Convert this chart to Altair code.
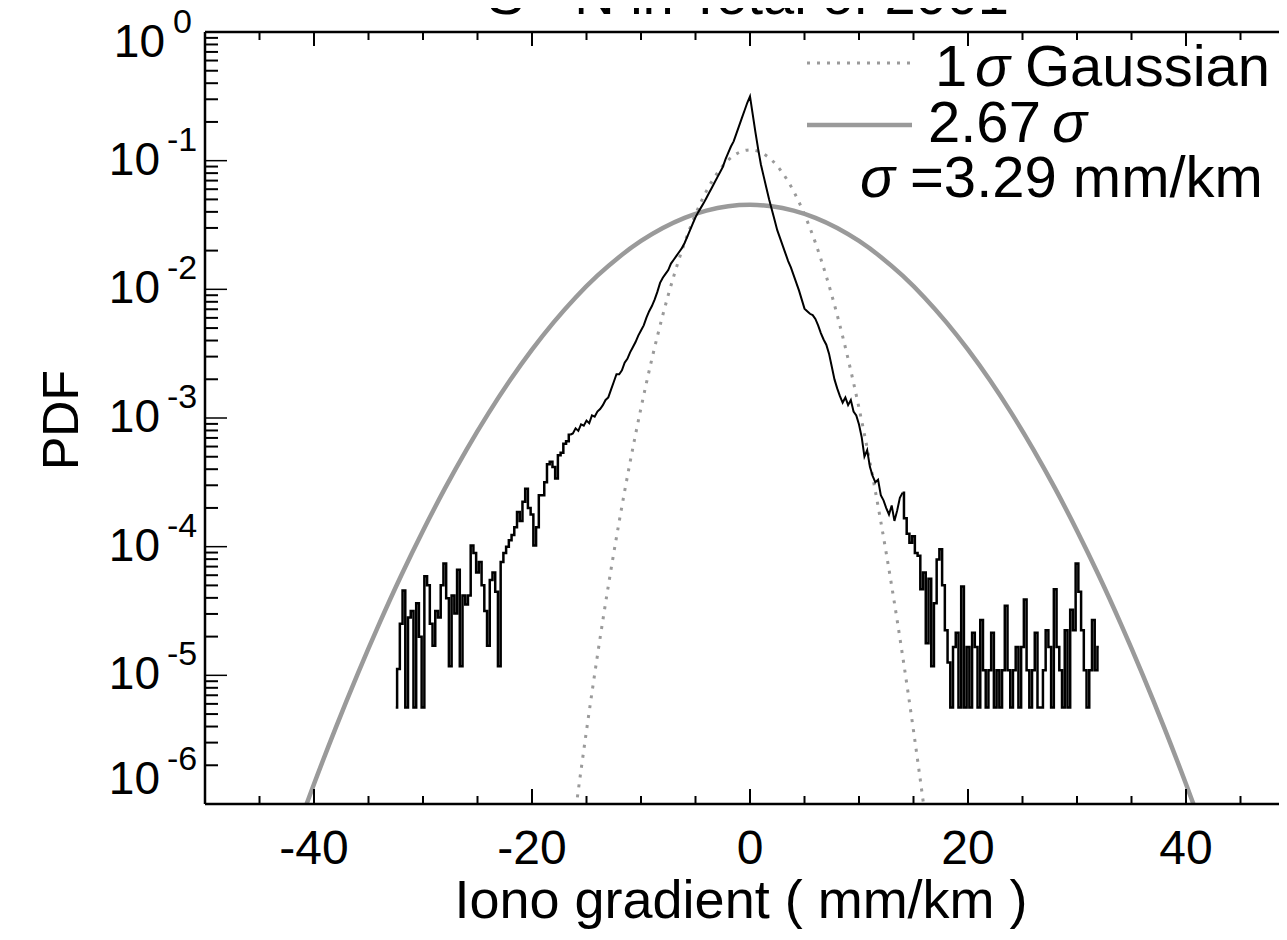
import altair as alt
import numpy as np
import pandas as pd

# ---------------- data ----------------
STEP = 0.25
# log10(PDF) of the measured distribution, bins of 0.25 mm/km
left_tail_start = -32.5
left_tail_log = [
    -5.25, -4.95, -4.60, -4.34, -5.25, -4.55, -4.50, -5.25, -4.44, -4.70,
    -5.25, -4.23, -4.30, -4.60, -4.77, -4.50, -4.55, -4.30, -4.13, -4.40,
    -4.93, -4.38, -4.52, -4.18, -4.93, -4.38, -4.45, -4.38, -3.99, -4.05,
    -4.20, -4.12, -4.30, -4.50, -4.77, -4.26, -4.20, -4.35, -4.93, -4.12,
    -4.05, -4.00, -3.95, -3.91, -3.85, -3.73, -3.80, -3.65, -3.55, -3.70,
    -3.75, -3.99, -3.85, -3.60, -3.60, -3.50, -3.36, -3.34, -3.38, -3.47,
    -3.29, -3.27, -3.20, -3.18, -3.13,
]
left_core_start = -16.25
left_core_log = [
    -3.12, -3.08, -3.10, -3.05, -3.06, -3.02, -3.04, -2.98, -2.99, -2.95,
    -2.93, -2.90, -2.86, -2.84, -2.78, -2.72, -2.66, -2.66, -2.63, -2.57,
    -2.54, -2.49, -2.45, -2.41, -2.36, -2.32, -2.28, -2.22, -2.17, -2.13,
    -2.08, -2.02, -1.95, -1.91, -1.88, -1.85, -1.80, -1.77, -1.74, -1.71,
    -1.68, -1.64, -1.59, -1.54, -1.49, -1.44, -1.40, -1.365, -1.33, -1.29,
    -1.25, -1.21, -1.17, -1.13, -1.09, -1.05, -0.99, -0.94, -0.89, -0.85,
    -0.79, -0.73, -0.67, -0.61, -0.55, -0.50,
]
right_start = 0.25
right_log = [
    -0.64, -0.78, -0.91, -1.03, -1.12, -1.21, -1.30, -1.38, -1.46, -1.54,
    -1.60, -1.66, -1.72, -1.78, -1.83, -1.89, -1.95, -2.01, -2.08, -2.15,
    -2.17, -2.19, -2.20, -2.23, -2.28, -2.34, -2.39, -2.43, -2.50, -2.60,
    -2.70, -2.77, -2.83, -2.88, -2.84, -2.90, -2.86, -2.95, -2.98, -3.05,
    -3.15, -3.30, -3.25, -3.38, -3.45, -3.50, -3.48, -3.60, -3.64, -3.70,
    -3.75, -3.68, -3.80, -3.72, -3.62, -3.58, -3.78, -3.90, -3.97, -3.92,
    -4.05, -4.07, -4.33, -4.20, -4.75, -4.25, -4.93, -4.44, -4.10, -4.02,
    -4.30, -4.65, -4.90, -5.25, -4.78, -4.67, -5.25, -4.31, -5.25, -4.78,
    -5.25, -4.67, -4.78, -5.25, -4.57, -4.96, -5.25, -4.96, -4.67, -5.25,
    -4.96, -5.25, -4.96, -4.46, -4.96, -5.25, -4.96, -4.78, -5.25, -4.78,
    -4.41, -4.96, -5.25, -4.96, -4.67, -5.25, -5.25, -4.96, -4.65, -4.78,
    -5.25, -4.33, -4.78, -4.96, -5.25, -4.65, -5.25, -4.49, -4.65, -4.13,
    -4.35, -4.65, -4.96, -5.25, -4.96, -4.57, -4.96, -4.78,
]

# 1 sigma Gaussian (sigma = 3.29 mm/km), log10 PDF, one side (symmetric)
g1_x = [0, 1, 2, 3, 4, 5, 6, 7, 8, 9, 10, 11, 12, 13, 14, 15, 15.92, 16.2]
g1_log = [-0.916, -0.936, -0.996, -1.097, -1.237, -1.418, -1.638, -1.899, -2.200,
          -2.541, -2.922, -3.343, -3.805, -4.306, -4.848, -5.430, -6.0, -6.18]
# 2.67 sigma Gaussian, log10 PDF, one side (symmetric)
g2_x = [0, 2, 4, 6, 8, 10, 12, 14, 16, 18, 20, 22, 24, 26, 28, 30, 32, 34, 36, 38, 40, 40.68, 41]
g2_log = [-1.343, -1.354, -1.388, -1.444, -1.523, -1.624, -1.748, -1.894, -2.063,
          -2.255, -2.469, -2.705, -2.964, -3.245, -3.549, -3.876, -4.224, -4.596,
          -4.990, -5.406, -5.845, -6.0, -6.073]

x_tick_labels = [-40, -20, 0, 20, 40]
x_minor = [-45, -35, -30, -25, -15, -10, -5, 5, 10, 15, 25, 30, 35, 45]
y_exponents = [0, -1, -2, -3, -4, -5, -6]
y_mantissas = [2, 3, 4, 5, 6, 7, 8, 9]

title_text = "S - N in Total of 2001"
x_title = "Iono gradient ( mm/km )"
y_title = "PDF"

# ---------------- tables ----------------
def seg(start, vals):
    return [(start + STEP * i, 10 ** v) for i, v in enumerate(vals)]

rows = seg(left_tail_start, left_tail_log) + seg(left_core_start, left_core_log) + seg(right_start, right_log)
df_data = pd.DataFrame(rows, columns=["x", "pdf"])

def mirror(xs, ls):
    xx = [-v for v in reversed(xs[1:])] + list(xs)
    ll = list(reversed(ls[1:])) + list(ls)
    return pd.DataFrame({"x": xx, "pdf": [10 ** v for v in ll]})

df_g1 = mirror(g1_x, g1_log)
df_g2 = mirror(g2_x, g2_log)

df_xmaj = pd.DataFrame({"x": x_tick_labels, "lab": [str(v) for v in x_tick_labels]})
df_xmin = pd.DataFrame({"x": x_minor})
df_ymaj = pd.DataFrame({"pdf": [10.0 ** e for e in y_exponents]})
df_ymin = pd.DataFrame({"pdf": [m * 10.0 ** e for e in y_exponents[1:] for m in y_mantissas]})
df_ylab = pd.DataFrame({"pdf": [10.0 ** e for e in y_exponents],
                        "e": y_exponents,
                        "base": ["10"] * len(y_exponents),
                        "sup": [str(e) for e in y_exponents]})
one = pd.DataFrame({"a": [0]})

# ---------------- layout ----------------
W = 1074      # visible view width (page is cut at the right like the reference)
XR = 1090     # full plot width for the scale
H = 772
FONT = "Liberation Sans"
GRAY = "#9a9a9a"

xscale = alt.Scale(domain=[-50, 50], range=[0, XR], nice=False, zero=False)
yscale = alt.Scale(type="log", domain=[1e-6, 1], nice=False)

X = alt.X("x:Q", scale=xscale, axis=None)
Y = alt.Y("pdf:Q", scale=yscale, axis=None)

gauss2 = alt.Chart(df_g2).mark_line(color=GRAY, strokeWidth=4.5, clip=True,
                                    interpolate="monotone").encode(x=X, y=Y)
gauss1 = alt.Chart(df_g1).mark_line(color=GRAY, strokeWidth=3, strokeDash=[3, 7], clip=True,
                                    interpolate="monotone").encode(x=X, y=Y)
base_meas = alt.Chart(df_data)
meas_core = base_meas.transform_filter("datum.x >= -16.5 && datum.x <= 14").mark_line(
    color="black", strokeWidth=2, clip=True).encode(x=X, y=Y)
meas_left = base_meas.transform_filter("datum.x <= -16.5").mark_line(
    color="black", strokeWidth=2.5, clip=True, interpolate="step").encode(x=X, y=Y)
meas_right = base_meas.transform_filter("datum.x >= 14").mark_line(
    color="black", strokeWidth=2.5, clip=True, interpolate="step").encode(x=X, y=Y)

# frame
frame_top = alt.Chart(one).mark_rule(color="black", strokeWidth=2.5).encode(
    x=alt.value(0), x2=alt.value(W), y=alt.value(0))
frame_bot = alt.Chart(one).mark_rule(color="black", strokeWidth=2.5).encode(
    x=alt.value(0), x2=alt.value(W), y=alt.value(H))
frame_left = alt.Chart(one).mark_rule(color="black", strokeWidth=2.5).encode(
    x=alt.value(0), y=alt.value(0), y2=alt.value(H))

# inward ticks
def xt(df, y0, y1, w=2):
    return alt.Chart(df).mark_rule(color="black", strokeWidth=w).encode(
        x=X, y=alt.value(y0), y2=alt.value(y1))

def yt(df, x0, x1, w=2):
    return alt.Chart(df).mark_rule(color="black", strokeWidth=w).encode(
        y=Y, x=alt.value(x0), x2=alt.value(x1))

ticks = [
    xt(df_xmaj, H, H - 15), xt(df_xmin, H, H - 8),
    xt(df_xmaj, 0, 14), xt(df_xmin, 0, 8),
    yt(df_ymaj, 0, 22, 1.5), yt(df_ymin, 0, 13),
]

# x tick labels and title
xlabels = alt.Chart(df_xmaj).mark_text(font=FONT, fontSize=48, align="center",
                                       baseline="alphabetic", color="black").encode(
    x=X, y=alt.value(H + 60), text="lab:N")
xtitle = alt.Chart(one).mark_text(font=FONT, fontSize=54, align="center", baseline="alphabetic",
                                  color="black", text=x_title).encode(
    x=alt.value(536), y=alt.value(H + 114))

# y tick labels 10^n
def ylab(filt, bx, sx, dy):
    d = alt.Chart(df_ylab).transform_filter(filt)
    b = d.mark_text(font=FONT, fontSize=46, align="right", baseline="middle", dy=dy,
                    color="black").encode(y=Y, x=alt.value(bx), text="base:N")
    s = d.mark_text(font=FONT, fontSize=34, align="left", baseline="middle", dy=dy - 20,
                    color="black").encode(y=Y, x=alt.value(sx), text="sup:N")
    return [b, s]

ylabels = (ylab("datum.e == 0", -40, -32, 11)
           + ylab("datum.e < 0 && datum.e > -6", -45, -38, 0)
           + ylab("datum.e == -6", -45, -38, -24))

ytitle = alt.Chart(one).mark_text(font=FONT, fontSize=50, angle=270, align="center",
                                  baseline="alphabetic", color="black", text=y_title).encode(
    x=alt.value(-127), y=alt.value(388))
title = alt.Chart(one).mark_text(font=FONT, fontSize=56, align="center", baseline="alphabetic",
                                 color="black", text=title_text).encode(
    x=alt.value(543), y=alt.value(-18))

# legend
leg_dot = alt.Chart(one).mark_rule(color=GRAY, strokeWidth=3, strokeDash=[3, 7]).encode(
    x=alt.value(602), x2=alt.value(706), y=alt.value(31))
leg_sol = alt.Chart(one).mark_rule(color=GRAY, strokeWidth=4.5).encode(
    x=alt.value(602), x2=alt.value(707), y=alt.value(93))

def ltxt(s, x, y, italic=False):
    return alt.Chart(one).mark_text(font=FONT, fontSize=58, align="left", baseline="alphabetic",
                                    color="black", text=s,
                                    fontStyle="italic" if italic else "normal").encode(
        x=alt.value(x), y=alt.value(y))

legend = [
    ltxt("1", 730, 54), ltxt("\u03c3", 770, 54, True), ltxt("Gaussian", 820, 54),
    ltxt("2.67", 723, 110), ltxt("\u03c3", 847, 110, True),
    ltxt("\u03c3", 655, 165, True), ltxt("=3.29 mm/km", 705, 165),
]

chart = alt.layer(
    gauss2, gauss1, meas_core, meas_left, meas_right,
    frame_top, frame_bot, frame_left,
    *ticks, xlabels, xtitle, *ylabels, ytitle, title, leg_dot, leg_sol, *legend,
).properties(
    width=W, height=H,
    autosize=alt.AutoSizeParams(type="none"),
    padding={"left": 197, "top": 24, "right": 0, "bottom": 128},
    background="white",
).configure(font=FONT).configure_view(stroke=None)

chart.save("out.html", embed_options={"renderer": "svg", "actions": False})
